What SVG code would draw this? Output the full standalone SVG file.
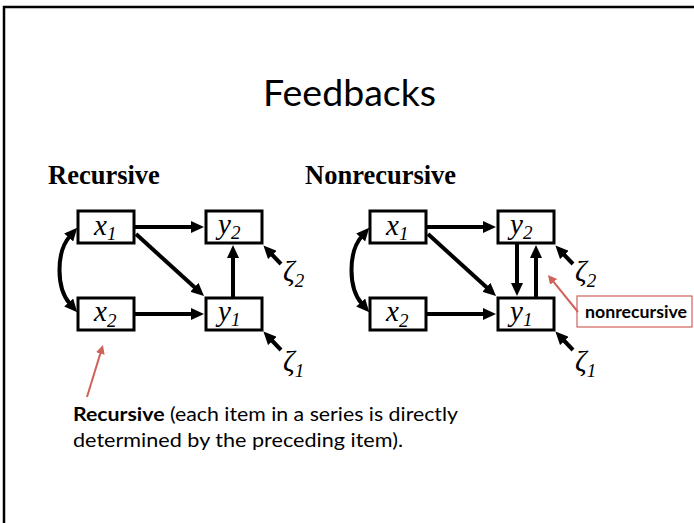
<svg xmlns="http://www.w3.org/2000/svg" width="694" height="523" viewBox="0 0 694 523">
  <style>
    .frame { fill: none; stroke: #000; stroke-width: 2.5; }
    .box { fill: #fff; stroke: #000; stroke-width: 3; }
    .edge { fill: none; stroke: #000; stroke-width: 4; marker-end: url(#head); }
    .both { fill: none; stroke: #000; stroke-width: 4; marker-start: url(#head); marker-end: url(#head); }
    .note { fill: none; stroke: #d0625c; stroke-width: 2; marker-end: url(#redhead); }
    .var { font-family: "Liberation Serif", "Times New Roman", serif; font-style: italic; font-size: 29px; fill: #000; }
    .sub { font-size: 19px; }
    .head { font-family: "Liberation Serif", "Times New Roman", serif; font-weight: bold; font-size: 26.5px; fill: #000; }
    .sans { font-family: Lato, "Open Sans", "Liberation Sans", sans-serif; fill: #000; }
  </style>
  <defs>
    <marker id="head" markerUnits="userSpaceOnUse" markerWidth="14" markerHeight="12" refX="2" refY="6" orient="auto-start-reverse">
      <path d="M0,0 L13,6 L0,12 z" fill="#000"/>
    </marker>
    <marker id="redhead" markerUnits="userSpaceOnUse" markerWidth="10" markerHeight="9" refX="1" refY="4.5" orient="auto">
      <path d="M0,0 L9,4.5 L0,9 z" fill="#d0625c"/>
    </marker>
  </defs>

  <rect width="694" height="523" fill="#fff"/>
  <rect class="frame" x="4" y="7" width="700" height="530"/>

  <text class="sans" x="349.5" y="106" font-size="37" text-anchor="middle" textLength="173" lengthAdjust="spacingAndGlyphs">Feedbacks</text>

  <text class="head" x="48" y="184">Recursive</text>
  <text class="head" x="305" y="184">Nonrecursive</text>

  <!-- recursive model -->
  <g id="rec-x1"><rect class="box" x="78" y="211" width="56" height="32"/><text class="var" x="94" y="235">x<tspan class="sub" dy="5">1</tspan></text></g>
  <g id="rec-x2"><rect class="box" x="78" y="298" width="56" height="32"/><text class="var" x="94" y="321">x<tspan class="sub" dy="6">2</tspan></text></g>
  <g id="rec-y2"><rect class="box" x="206" y="211" width="56" height="32"/><text class="var" x="218" y="234">y<tspan class="sub" dy="5">2</tspan></text></g>
  <g id="rec-y1"><rect class="box" x="206" y="298" width="56" height="32"/><text class="var" x="218" y="321">y<tspan class="sub" dy="5">1</tspan></text></g>
  <g id="rec-z2"><text class="var" x="283" y="281" font-size="27">ζ<tspan class="sub" dy="6">2</tspan></text></g>
  <g id="rec-z1"><text class="var" x="283" y="371" font-size="27">ζ<tspan class="sub" dy="6">1</tspan></text></g>

  <!-- nonrecursive model -->
  <g id="non-x1"><rect class="box" x="370" y="211" width="56" height="32"/><text class="var" x="386" y="235">x<tspan class="sub" dy="5">1</tspan></text></g>
  <g id="non-x2"><rect class="box" x="370" y="298" width="56" height="32"/><text class="var" x="386" y="321">x<tspan class="sub" dy="6">2</tspan></text></g>
  <g id="non-y2"><rect class="box" x="498" y="211" width="56" height="32"/><text class="var" x="510" y="234">y<tspan class="sub" dy="5">2</tspan></text></g>
  <g id="non-y1"><rect class="box" x="498" y="298" width="56" height="32"/><text class="var" x="510" y="321">y<tspan class="sub" dy="5">1</tspan></text></g>
  <g id="non-z2"><text class="var" x="575" y="281" font-size="27">ζ<tspan class="sub" dy="6">2</tspan></text></g>
  <g id="non-z1"><text class="var" x="575" y="371" font-size="27">ζ<tspan class="sub" dy="6">1</tspan></text></g>

  <g id="callout">
    <rect x="577" y="296" width="115" height="31" fill="#fff" stroke="#d0625c" stroke-width="1.2"/>
    <text class="sans" x="585" y="318" font-size="17" font-weight="bold" textLength="102" lengthAdjust="spacingAndGlyphs">nonrecursive</text>
  </g>

  <g id="caption">
    <text class="sans" x="73" y="421" font-size="19.5" textLength="385" lengthAdjust="spacingAndGlyphs"><tspan font-weight="bold">Recursive</tspan> (each item in a series is directly</text>
    <text class="sans" x="73" y="447" font-size="19.5" textLength="330" lengthAdjust="spacingAndGlyphs">determined by the preceding item).</text>
  </g>

  <g id="connectors">
    <!-- recursive -->
    <path class="edge" d="M135,227 L193,227"/>
    <path class="edge" d="M135,314 L193,314"/>
    <path class="edge" d="M136,234 L195.9,288.6"/>
    <path class="edge" d="M233,297 L233,256"/>
    <path class="edge" d="M281,264 L271,253.5"/>
    <path class="edge" d="M281,350 L271,339.5"/>
    <path class="both" d="M70,236 C56,252 56,288 70,304"/>
    <!-- nonrecursive -->
    <path class="edge" d="M427,227 L485,227"/>
    <path class="edge" d="M427,314 L485,314"/>
    <path class="edge" d="M428,234 L487.9,288.6"/>
    <path class="edge" d="M517,244 L517,285"/>
    <path class="edge" d="M536,297 L536,256"/>
    <path class="edge" d="M573,264 L563,253.5"/>
    <path class="edge" d="M573,350 L563,339.5"/>
    <path class="both" d="M362,236 C348,252 348,288 362,304"/>
    <!-- pointers -->
    <path class="note" d="M87,397 L100.6,352.6"/>
    <path class="note" d="M578,312 L553,281.2"/>
  </g>
</svg>
